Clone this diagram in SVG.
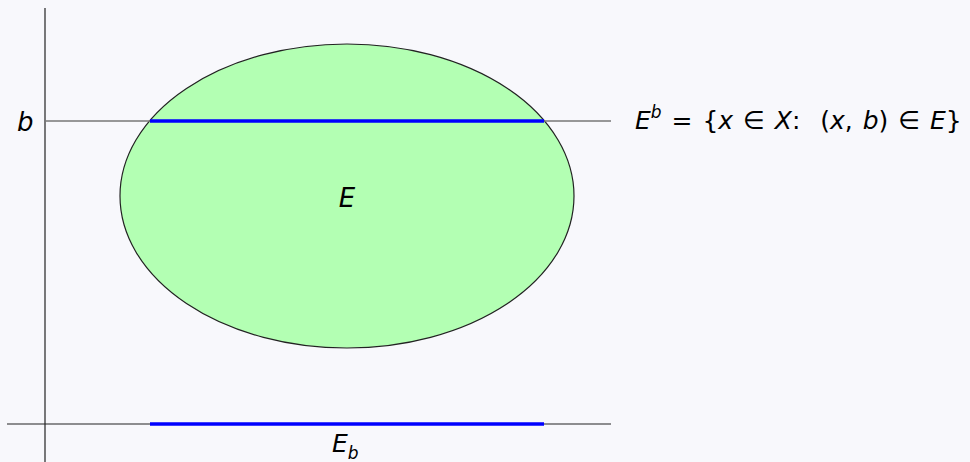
<svg xmlns="http://www.w3.org/2000/svg" width="970" height="462" viewBox="0 0 970 462">
<style>
.t{font-family:"DejaVu Sans","Liberation Sans",sans-serif;fill:#000}
.i{font-style:italic}
.big{font-size:26px}
.sm{font-size:25px}
.ax{stroke:#222;stroke-width:1.2;fill:none}
.bl{stroke:#0000ff;stroke-width:3.5}
</style>
<rect width="970" height="462" fill="#f8f8fc"/>
<g id="set-E">
<ellipse cx="347" cy="196" rx="227" ry="152" fill="#b3ffb3" stroke="#222" stroke-width="1.2"/>
<text class="t i big" x="347" y="207" text-anchor="middle">E</text>
</g>
<g id="connectors">
<line class="ax" x1="45" y1="8" x2="45" y2="462"/>
<line class="ax" x1="7" y1="424" x2="611" y2="424"/>
<line x1="45" y1="121" x2="611" y2="121" stroke="#777" stroke-width="1.5"/>
<line class="bl" x1="150" y1="121" x2="544" y2="121"/>
<line class="bl" x1="150" y1="424" x2="544" y2="424"/>
</g>
<g id="label-b"><text class="t i big" x="17" y="131">b</text></g>
<g id="label-Eb">
<text class="t sm" x="635" y="129" xml:space="preserve" style="word-spacing:2px"><tspan class="i">E</tspan><tspan class="i" dy="-11" font-size="17">b</tspan><tspan dy="11"> = {</tspan><tspan class="i">x</tspan> ∈ <tspan class="i">X</tspan>:  (<tspan class="i">x</tspan>, <tspan class="i">b</tspan>) ∈ <tspan class="i">E</tspan>}</text>
</g>
<g id="label-E_b">
<text class="t sm i" x="332" y="452">E<tspan dy="7" font-size="17">b</tspan></text>
</g>
</svg>
